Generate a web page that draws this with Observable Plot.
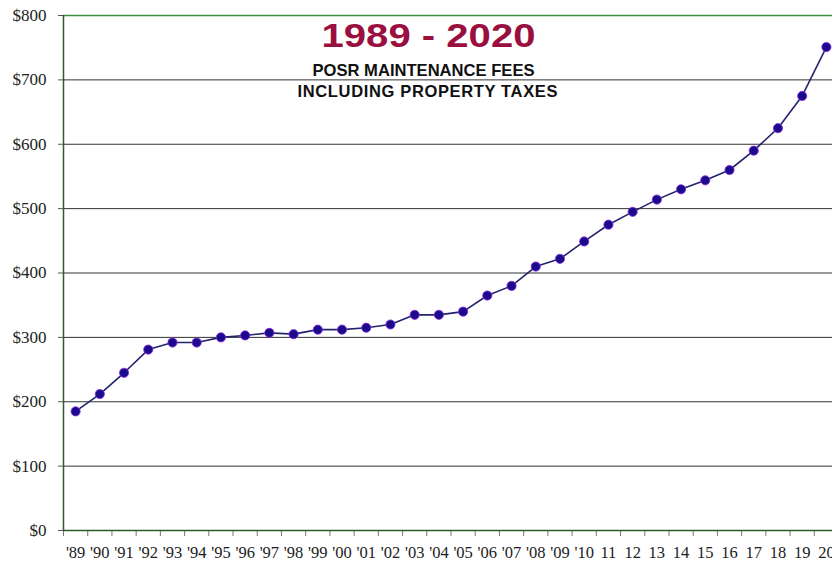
<!DOCTYPE html>
<html>
<head>
<meta charset="utf-8">
<script src="https://cdn.jsdelivr.net/npm/d3@7"></script>
<script src="https://cdn.jsdelivr.net/npm/@observablehq/plot@0.6"></script>
<style>
  html, body { margin: 0; padding: 0; background: #fff; overflow: hidden; }
  #chart { width: 832px; height: 562px; overflow: hidden; }
  #chart svg { max-width: none !important; }
</style>
</head>
<body>
<div id="chart"></div>
<script>
const yearLabels = ["'89","'90","'91","'92","'93","'94","'95","'96","'97","'98","'99","'00","'01","'02","'03","'04","'05","'06","'07","'08","'09","'10","11","12","13","14","15","16","17","18","19","20"];
const fees = [185, 212, 245, 281, 292, 292, 300, 303, 307, 305, 312, 312, 315, 320, 335, 335, 340, 365, 380, 410, 422, 449, 475, 495, 514, 530, 544, 560, 590, 625, 675, 751];
const yTicks = [0, 100, 200, 300, 400, 500, 600, 700, 800];
const titleText = "1989 - 2020";
const subtitleLine1 = "POSR MAINTENANCE FEES";
const subtitleLine2 = "INCLUDING PROPERTY TAXES";

const data = yearLabels.map((label, i) => ({i, label, fee: fees[i]}));
const idx = d3.range(yearLabels.length);
const bounds = d3.range(yearLabels.length + 1).map(k => k - 0.5);

const serif = "Liberation Serif, Times New Roman, serif";
const sans = "Liberation Sans, Arial, sans-serif";

const plot = Plot.plot({
  width: 840,
  height: 562,
  marginLeft: 63,
  marginTop: 15,
  marginBottom: 32,
  marginRight: 2,
  style: {background: "#fff", maxWidth: "none", fontFamily: serif},
  x: {type: "linear", domain: [-0.5, yearLabels.length - 0.5]},
  y: {domain: [0, 800]},
  marks: [
    Plot.gridY(yTicks.slice(1, -1), {stroke: "#333", strokeOpacity: 1, strokeWidth: 1}),
    Plot.axisY(yTicks, {
      tickSize: 5, tickPadding: 12, stroke: "#555",
      tickFormat: d => "$" + d, fontSize: 17, fill: "#222", label: null,
      fontFamily: serif
    }),
    Plot.axisX(bounds, {tickSize: 6, tickFormat: null, stroke: "#777", label: null, text: null}),
    Plot.axisX(idx, {
      tickSize: 0, tickPadding: 16, tickFormat: i => yearLabels[i],
      fontSize: 16.5, fill: "#222", label: null, fontFamily: serif
    }),
    Plot.ruleY([800], {stroke: "#3f8f3f", strokeWidth: 1.5}),
    Plot.ruleY([0], {stroke: "#2e5a2e", strokeWidth: 1.5}),
    Plot.ruleX([-0.5], {stroke: "#2e5a2e", strokeWidth: 1.5}),
    Plot.line(data, {x: "i", y: "fee", stroke: "#23236e", strokeWidth: 1.6}),
    Plot.dot(data, {x: "i", y: "fee", r: 4.6, fill: "#1c0a8c", stroke: "#8a2be2", strokeWidth: 0.8}),
    Plot.text([titleText], {
      frameAnchor: "top-left", dx: 365, dy: 31, text: d => d, fontFamily: sans,
      fontSize: 34, fontWeight: "bold", fill: "#9a0f40",
      textAnchor: "middle", lineAnchor: "bottom", className: "title-main"
    }),
    Plot.text([subtitleLine1], {
      frameAnchor: "top-left", dx: 360, dy: 60, text: d => d, fontFamily: sans,
      fontSize: 16.5, fontWeight: "bold", fill: "#111",
      textAnchor: "middle", lineAnchor: "bottom", className: "subtitle1"
    }),
    Plot.text([subtitleLine2], {
      frameAnchor: "top-left", dx: 364, dy: 81, text: d => d, fontFamily: sans,
      fontSize: 16.5, fontWeight: "bold", fill: "#111",
      textAnchor: "middle", lineAnchor: "bottom", className: "subtitle2"
    })
  ]
});

document.getElementById("chart").appendChild(plot);
const svg = d3.select(plot);
svg.selectAll(".title-main text").attr("textLength", 214).attr("lengthAdjust", "spacingAndGlyphs");
svg.selectAll(".subtitle1 text").attr("textLength", 222).attr("lengthAdjust", "spacingAndGlyphs");
svg.selectAll(".subtitle2 text").attr("textLength", 260).attr("lengthAdjust", "spacing");
</script>
</body>
</html>
